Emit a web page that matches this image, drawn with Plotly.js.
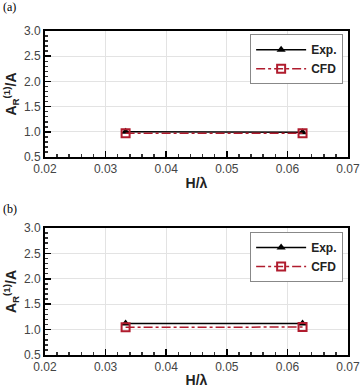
<!DOCTYPE html>
<html>
<head>
<meta charset="utf-8">
<script src="https://cdn.plot.ly/plotly-3.0.1.min.js"></script>
<style>html,body{margin:0;padding:0;background:#fff;}#chart{width:362px;height:388px;}</style>
</head>
<body>
<div id="chart"></div>
<script>
const xVals = [0.0333, 0.0625];
const expA = [1.0, 0.99];
const cfdA = [0.97, 0.97];
const expB = [1.12, 1.12];
const cfdB = [1.045, 1.05];
const seriesNames = ["Exp.", "CFD"];
const panelLabels = ["(a)", "(b)"];
const xTitle = "H/λ";
const yTitle = "A<sub>R</sub><sup>(1)</sup>/A";

const expStyle = {mode: "lines+markers", line: {color: "#000", width: 1.5}, marker: {symbol: "triangle-up", size: 8, color: "#000"}};
const cfdStyle = {mode: "lines+markers", line: {color: "#b01c2e", width: 1.5, dash: "dashdot"}, marker: {symbol: "square-open", size: 8, color: "#b01c2e", line: {width: 2, color: "#b01c2e"}}};

const traces = [
  Object.assign({x: xVals, y: expA, name: "<b>" + seriesNames[0] + "</b>", xaxis: "x", yaxis: "y", legend: "legend"}, expStyle),
  Object.assign({x: xVals, y: cfdA, name: "<b>" + seriesNames[1] + "</b>", xaxis: "x", yaxis: "y", legend: "legend"}, cfdStyle),
  Object.assign({x: xVals, y: expB, name: "<b>" + seriesNames[0] + "</b>", xaxis: "x2", yaxis: "y2", legend: "legend2"}, expStyle),
  Object.assign({x: xVals, y: cfdB, name: "<b>" + seriesNames[1] + "</b>", xaxis: "x2", yaxis: "y2", legend: "legend2"}, cfdStyle)
];

const tickFont = {family: "Liberation Sans, Arial, sans-serif", size: 12, color: "#444"};
function xAxis(anchor) {
  return {
    anchor: anchor, domain: [0, 1], range: [0.02, 0.07], dtick: 0.01, tick0: 0.02, tickformat: ".2f",
    ticks: "inside", ticklen: 6, tickwidth: 1.5, tickcolor: "#000",
    minor: {dtick: 0.002, ticks: "inside", ticklen: 3, tickcolor: "#333", showgrid: false},
    showline: true, mirror: true, linecolor: "#000", linewidth: 2,
    showgrid: true, gridcolor: "#e3e3e3", gridwidth: 1, zeroline: false,
    tickfont: tickFont,
    title: {text: "<b>" + xTitle + "</b>", font: {family: "Liberation Sans, Arial, sans-serif", size: 14, color: "#222"}, standoff: 3}
  };
}
function yAxis(anchor, domain) {
  return {
    anchor: anchor, domain: domain, range: [0.5, 3.0], dtick: 0.5, tick0: 0.5, tickformat: ".1f",
    ticks: "inside", ticklen: 6, tickwidth: 1.5, tickcolor: "#000",
    minor: {dtick: 0.1, ticks: "inside", ticklen: 3, tickcolor: "#333", showgrid: false},
    showline: true, mirror: true, linecolor: "#000", linewidth: 2,
    showgrid: true, gridcolor: "#e3e3e3", gridwidth: 1, zeroline: false,
    tickfont: tickFont,
    title: {text: "<b>" + yTitle + "</b>", font: {family: "Liberation Sans, Arial, sans-serif", size: 14, color: "#222"}, standoff: 4}
  };
}
const legendStyle = {
  xanchor: "left", yanchor: "top", bgcolor: "#fff", bordercolor: "#888", borderwidth: 1,
  font: {family: "Liberation Sans, Arial, sans-serif", size: 12, color: "#222"},
  tracegroupgap: 0, itemwidth: 50
};

const layout = {
  width: 362, height: 388,
  margin: {l: 45, r: 14, t: 31, b: 33},
  paper_bgcolor: "#fff", plot_bgcolor: "#fff",
  showlegend: true,
  xaxis: xAxis("y"),
  yaxis: yAxis("x", [0.611, 1.0]),
  xaxis2: xAxis("y2"),
  yaxis2: yAxis("x2", [0, 0.392]),
  legend: Object.assign({x: 0.677, y: 0.99}, legendStyle),
  legend2: Object.assign({x: 0.677, y: 0.38}, legendStyle),
  annotations: [
    {text: panelLabels[0], xref: "paper", yref: "paper", x: -0.145, y: 1.075, xanchor: "left", yanchor: "middle", showarrow: false, font: {family: "Liberation Serif, Times New Roman, serif", size: 12, color: "#000"}},
    {text: panelLabels[1], xref: "paper", yref: "paper", x: -0.145, y: 0.452, xanchor: "left", yanchor: "middle", showarrow: false, font: {family: "Liberation Serif, Times New Roman, serif", size: 12, color: "#000"}}
  ]
};
Plotly.newPlot("chart", traces, layout, {displayModeBar: false, staticPlot: true});
</script>
</body>
</html>
